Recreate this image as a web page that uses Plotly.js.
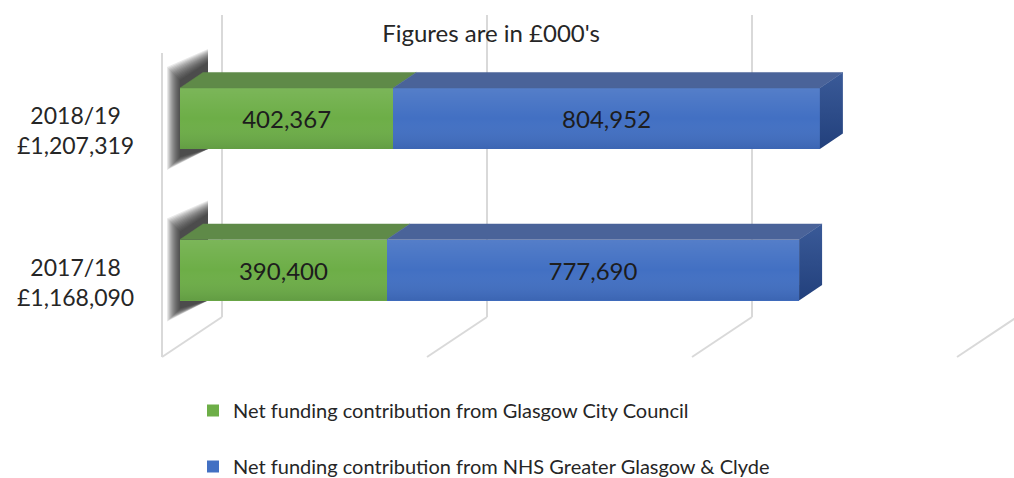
<!DOCTYPE html>
<html><head><meta charset="utf-8">
<script src="https://cdn.plot.ly/plotly-3.0.1.min.js"></script>
<style>html,body{margin:0;padding:0;background:#fff}#chart{width:1014px;height:478px}</style>
</head><body><div id="chart"></div>
<script>
// ---- data ----
const years = ['2017/18', '2018/19'];
const totalLabels = ['£1,168,090', '£1,207,319'];
const councilValues = [390400, 402367];
const nhsValues = [777690, 804952];
const seriesNames = ['Net funding contribution from Glasgow City Council',
                     'Net funding contribution from NHS Greater Glasgow & Clyde'];
const gridValues = [0, 500000, 1000000, 1500000];
const titleText = "Figures are in £000's";

// ---- geometry / style ----
const W = 1014, H = 478, ML = 150, MR = 0, MT = 0, MB = 98;
const plotW = W - ML - MR, plotH = H - MT - MB;
const xPerPx = 1 / 0.00053;
const xRange = [-30 * xPerPx, (plotW - 30) * xPerPx];
const yRange = [-0.726, 1.782];
const yPerPx = (yRange[1] - yRange[0]) / plotH;
const barW = 0.4026;
const depthX = 23 * xPerPx, depthY = 15.5 * yPerPx;
const FONT = 'Lato, "Open Sans", sans-serif';
const TXT = '#262626';
const yIdx = years.map((_, i) => i);

const col = {
  green: '#6dae47', greenTop: '#5f8a48',
  blue: '#4270c3', blueTop: '#4a6399', blueSide: '#2d4c8a'
};

function poly(xs, ys, color, grad) {
  const t = {type: 'scatter', x: xs.concat([xs[0]]), y: ys.concat([ys[0]]), mode: 'lines',
    fill: 'toself', fillcolor: color, line: {width: 0.5, color: grad ? 'rgba(0,0,0,0)' : color},
    hoverinfo: 'skip', showlegend: false};
  if (grad) t.fillgradient = {type: 'vertical', colorscale: grad};
  return t;
}

const traces = [
  {type: 'bar', orientation: 'h', name: seriesNames[0], x: councilValues, y: yIdx, width: barW,
   marker: {color: col.green, line: {width: 0}}, legendgroup: 'a',
   texttemplate: '%{x:,}', textposition: 'inside', insidetextanchor: 'middle',
   textfont: {family: FONT, size: 24, color: '#1a1a1a'}},
  {type: 'bar', orientation: 'h', name: seriesNames[1], x: nhsValues, y: yIdx, width: barW,
   marker: {color: col.blue, line: {width: 0}}, legendgroup: 'b',
   texttemplate: '%{x:,}', textposition: 'inside', insidetextanchor: 'middle',
   textfont: {family: FONT, size: 24, color: '#1a1a1a'}}
];

// 3D faces derived from the data values
const frontShade = [[0, 'rgba(0,0,30,0.10)'], [0.5, 'rgba(255,255,255,0)'], [1, 'rgba(255,255,255,0.10)']];
yIdx.forEach(i => {
  const top = i + barW / 2, bot = i - barW / 2;
  const g = councilValues[i], t = councilValues[i] + nhsValues[i];
  traces.push(poly([0, t, t, 0], [bot, bot, top, top], 'rgba(0,0,0,0)', frontShade));
  traces.push(poly([0, depthX, g + depthX, g], [top, top + depthY, top + depthY, top], col.greenTop));
  traces.push(poly([g, g + depthX, t + depthX, t], [top, top + depthY, top + depthY, top], col.blueTop));
  traces.push(poly([t, t + depthX, t + depthX, t], [top, top + depthY, bot + depthY, bot], col.blueSide,
    [[0, '#22407c'], [1, '#3a5a98']]));
});

// ---- shapes: back wall / floor gridlines ----
const shapes = [];
const gridColor = '#d9d9d9';
const yFront = 1 - 357 / plotH, yBack = 1 - 317 / plotH, yTop = 1 - 15 / plotH, yWallTop = 1 - 53 / plotH;
gridValues.forEach(v => {
  shapes.push({type: 'line', layer: 'below', xref: 'x', xsizemode: 'pixel', xanchor: v, x0: 42, x1: 42,
    yref: 'paper', y0: yBack, y1: yTop, line: {color: gridColor, width: 2}});
  shapes.push({type: 'line', layer: 'below', xref: 'x', xsizemode: 'pixel', xanchor: v, x0: -18, x1: 42,
    yref: 'paper', y0: yFront, y1: yBack, line: {color: gridColor, width: 2}});
});
shapes.push({type: 'line', layer: 'below', xref: 'x', xsizemode: 'pixel', xanchor: gridValues[0], x0: -18, x1: -18,
  yref: 'paper', y0: yFront, y1: yWallTop, line: {color: gridColor, width: 2}});

// soft shadow behind the left end of each bar
const barHpx = barW / yPerPx;
yIdx.forEach(i => {
  const top = i + barW / 2;
  for (let e = 9; e >= -4; e--) {
    const pts = [[-4 - e, -12 - e], [28, -30 - e], [28, barHpx], [-4 - e, barHpx + 12 + e]];
    const d = pts.map((p, k) => (k ? 'L' : 'M') + (p[0] * xPerPx) + ',' + (top - p[1] * yPerPx)).join(' ') + ' Z';
    shapes.push({type: 'path', layer: 'below', xref: 'x', yref: 'y', path: d,
      fillcolor: '#222222', opacity: 0.1, line: {width: 0}});
  }
});

// category labels (centred two-line)
const annotations = yIdx.map(i => ({
  xref: 'paper', x: (75 - ML) / plotW, xanchor: 'center', yref: 'y', y: i, yanchor: 'middle', yshift: -12,
  text: years[i] + '<br>' + totalLabels[i], showarrow: false, align: 'center',
  font: {family: FONT, size: 23, color: TXT}
}));

const layout = {
  width: W, height: H,
  margin: {l: ML, r: MR, t: MT, b: MB, autoexpand: false},
  paper_bgcolor: '#ffffff', plot_bgcolor: 'rgba(0,0,0,0)',
  barmode: 'stack', bargap: 0,
  hovermode: false,
  title: {text: titleText, xref: 'container', x: 491 / W, xanchor: 'center',
          yref: 'container', y: 1 - 34 / H, yanchor: 'middle',
          font: {family: FONT, size: 24, color: TXT}},
  xaxis: {range: xRange, showgrid: false, zeroline: false, showticklabels: false, showline: false, fixedrange: true},
  yaxis: {range: yRange, showgrid: false, zeroline: false, showticklabels: false, showline: false, fixedrange: true},
  showlegend: true,
  legend: {orientation: 'v', traceorder: 'grouped', tracegroupgap: 27,
           xref: 'container', x: 193 / W, xanchor: 'left', yref: 'container', y: 1 - 391 / H, yanchor: 'top',
           font: {family: FONT, size: 20, color: TXT}, bgcolor: 'rgba(0,0,0,0)'},
  shapes: shapes,
  annotations: annotations,
  font: {family: FONT, color: TXT}
};

Plotly.newPlot('chart', traces, layout, {displayModeBar: false, staticPlot: true});
</script>
</body></html>
